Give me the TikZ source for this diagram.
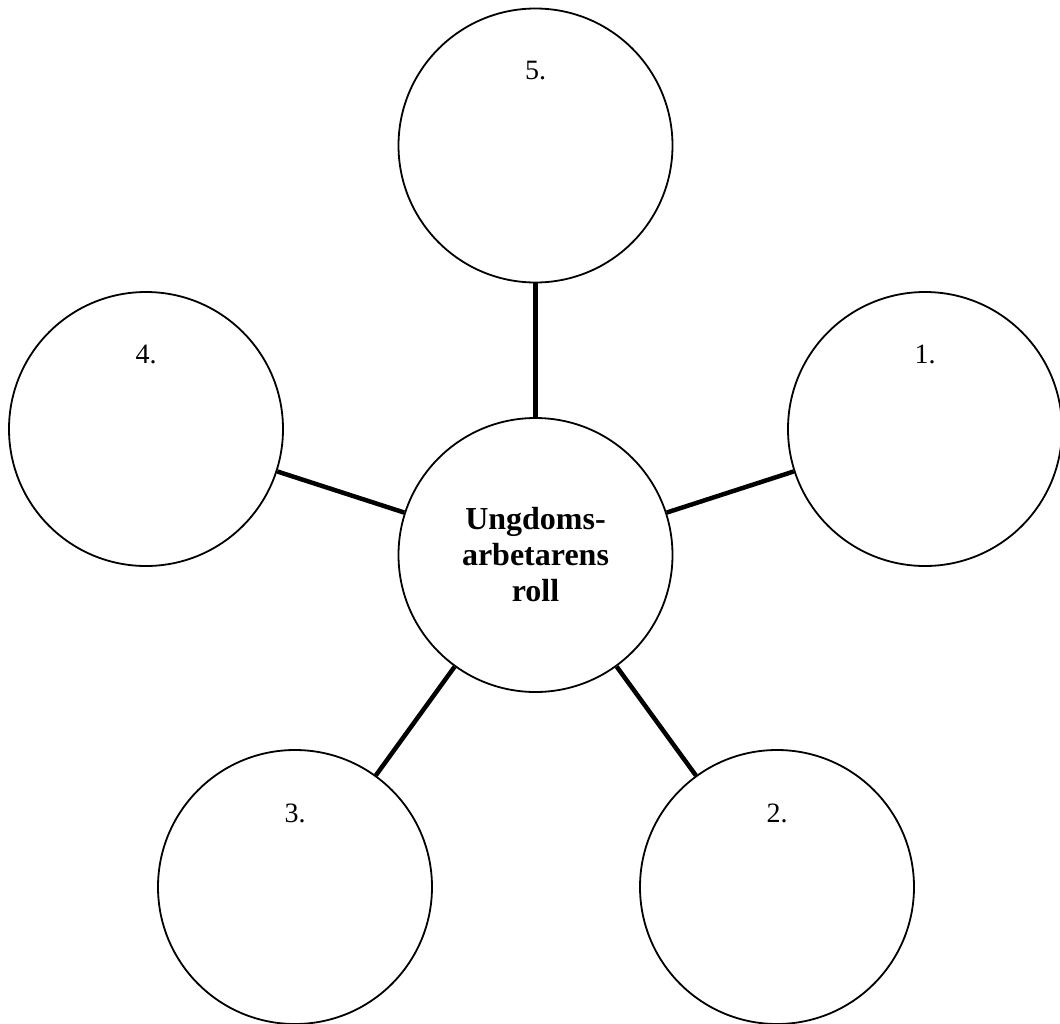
\documentclass[tikz,border=0pt]{standalone}
\usepackage{fontspec}
\setmainfont{Liberation Serif}
\begin{document}
\begin{tikzpicture}[x=1pt,y=-1pt,
  bubble/.style={draw, circle, line width=1.8pt, minimum size=274pt, inner sep=0pt},
  numlabel/.style={anchor=base, font=\fontsize{28}{30}\selectfont, inner sep=0pt},
  link/.style={line width=4.5pt}]
\useasboundingbox (0,0) rectangle (1060,1023);
\node[bubble, align=center, font=\fontsize{32}{36}\selectfont\bfseries] (c) at (535.5,555) {Ungdoms-\\arbetarens\\roll};
\node[bubble] (n5) at (535.5,145.5) {};
\node[bubble] (n4) at (146,429) {};
\node[bubble] (n1) at (925,429) {};
\node[bubble] (n3) at (295,887) {};
\node[bubble] (n2) at (777,887) {};
\node[numlabel] (t5) at ([yshift=66pt]n5.center) {5.};
\node[numlabel] (t4) at ([yshift=66pt]n4.center) {4.};
\node[numlabel] (t1) at ([yshift=66pt]n1.center) {1.};
\node[numlabel] (t3) at ([yshift=65pt]n3.center) {3.};
\node[numlabel] (t2) at ([yshift=65pt]n2.center) {2.};
\draw[link] (c) -- (n5);
\draw[link] (c) -- (n4);
\draw[link] (c) -- (n1);
\draw[link] (c) -- (n3);
\draw[link] (c) -- (n2);
\end{tikzpicture}
\end{document}
